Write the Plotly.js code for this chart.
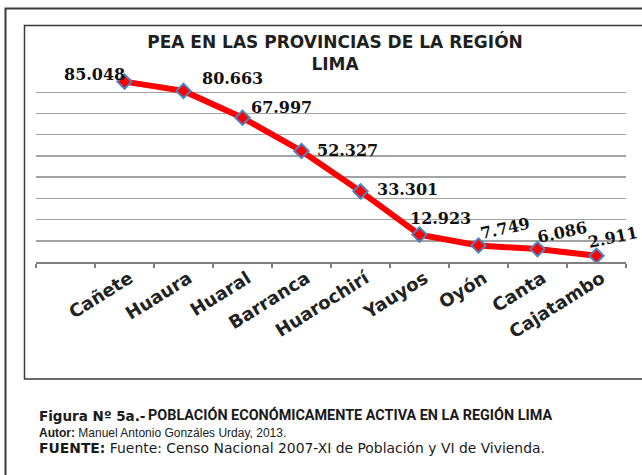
<!DOCTYPE html>
<html>
<head>
<meta charset="utf-8">
<script src="https://cdn.plot.ly/plotly-3.0.1.min.js"></script>
<style>
html,body{margin:0;padding:0;background:#fff;}
#chart{width:642px;height:475px;}
</style>
</head>
<body>
<div id="chart"></div>
<script>
// ---- data ----
const categories = ["Cañete", "Huaura", "Huaral", "Barranca", "Huarochirí", "Yauyos", "Oyón", "Canta", "Cajatambo"];
const pea = [85.048, 80.663, 67.997, 52.327, 33.301, 12.923, 7.749, 6.086, 2.911];
const chartTitle = ["PEA EN LAS PROVINCIAS DE LA REGIÓN", "LIMA"];
const figureLabel = "Figura Nº 5a.-";
const figureCaption = "POBLACIÓN ECONÓMICAMENTE ACTIVA EN LA REGIÓN LIMA";
const authorLine = "Manuel Antonio Gonzáles Urday, 2013.";
const sourceLine = "Fuente: Censo Nacional 2007-XI de Población y VI de Vivienda.";

// ---- styling / layout (not data) ----
const W = 642, H = 475;
const M = {l: 36, r: 16, t: 71, b: 213};
const PW = W - M.l - M.r, PH = H - M.t - M.b;
const px = v => (v - M.l) / PW;           // pixel x -> paper x
const py = v => (H - M.b - v) / PH;       // pixel y -> paper y

// data label offsets (pixels) and angles, one per point
const labelShift = [[-30, 7], [49, 12], [39, 10], [46, 1], [47, 2], [21, 16], [26, 17], [24, 17], [16, 18]];
const labelAngle = [0, 0, 0, 0, 0, 0, -12, -12, -12];

const xpos = categories.map((c, i) => i + 1); // first slot left empty as in the original

const trace = {
  type: 'scatter',
  mode: 'lines+markers',
  x: xpos,
  y: pea,
  line: {color: '#ff0000', width: 6},
  marker: {symbol: 'diamond', size: 11, color: '#ff0000', line: {color: '#4f81bd', width: 2}},
  hoverinfo: 'skip',
  cliponaxis: false
};

const annotations = [];
pea.forEach((v, i) => {
  annotations.push({
    x: xpos[i], y: v, xref: 'x', yref: 'y',
    text: v.toFixed(3),
    showarrow: false,
    xanchor: 'center', yanchor: 'middle',
    xshift: labelShift[i][0], yshift: labelShift[i][1],
    textangle: labelAngle[i],
    font: {family: 'DejaVu Serif', size: 16, color: '#111111', weight: 'bold'}
  });
});

// figure caption below the chart
annotations.push({xref: 'paper', yref: 'paper', x: px(37), y: py(416), xanchor: 'left', yanchor: 'middle',
  text: '<b>' + figureLabel + '</b>', showarrow: false,
  font: {family: 'DejaVu Sans', size: 13.5, color: '#1a1a1a'}});
annotations.push({xref: 'paper', yref: 'paper', x: px(146), y: py(415), xanchor: 'left', yanchor: 'middle',
  text: '<b>' + figureCaption + '</b>', showarrow: false,
  font: {family: 'Roboto', size: 14.4, color: '#1a1a1a'}});
annotations.push({xref: 'paper', yref: 'paper', x: px(37), y: py(433), xanchor: 'left', yanchor: 'middle',
  text: '<b>Autor:</b> ' + authorLine, showarrow: false,
  font: {family: 'Liberation Sans', size: 12, color: '#1a1a1a'}});
annotations.push({xref: 'paper', yref: 'paper', x: px(37), y: py(448), xanchor: 'left', yanchor: 'middle',
  text: '<b>FUENTE:</b> ' + sourceLine, showarrow: false,
  font: {family: 'DejaVu Sans', size: 13.9, color: '#1a1a1a'}});

const shapes = [
  // outer frame (continues past right/bottom edge)
  {type: 'rect', xref: 'paper', yref: 'paper', x0: px(5.5), x1: px(660), y0: py(8.5), y1: py(500),
   line: {color: '#3a3a3a', width: 2}, fillcolor: 'rgba(0,0,0,0)', layer: 'below'},
  // chart frame
  {type: 'rect', xref: 'paper', yref: 'paper', x0: px(24.5), x1: px(660), y0: py(25.5), y1: py(379),
   line: {color: '#3a3a3a', width: 1.5}, fillcolor: 'rgba(0,0,0,0)', layer: 'below'}
];

const layout = {
  width: W, height: H,
  margin: M,
  paper_bgcolor: '#ffffff',
  plot_bgcolor: 'rgba(0,0,0,0)',
  showlegend: false,
  title: {
    text: '<b>' + chartTitle[0] + '</b><br><b>' + chartTitle[1] + '</b>',
    xref: 'container', yref: 'container',
    x: 335 / W, y: 1 - 48 / H,
    xanchor: 'center', yanchor: 'middle',
    font: {family: 'DejaVu Sans', size: 17, color: '#1f1f1f'}
  },
  xaxis: {
    type: 'linear',
    range: [-0.5, categories.length + 0.5],
    tickvals: xpos,
    ticktext: categories,
    tickangle: -32,
    ticks: '',
    ticklabelstandoff: -3,
    ticklabelshift: 5,
    showgrid: false,
    zeroline: false,
    showline: true,
    linecolor: '#7f7f7f',
    linewidth: 2,
    tickfont: {family: 'DejaVu Sans', size: 18, color: '#222222', weight: 'bold'},
    minor: {tick0: -0.5, dtick: 1, ticks: 'outside', ticklen: 4, tickwidth: 2, tickcolor: '#7f7f7f', showgrid: false},
    fixedrange: true
  },
  yaxis: {
    range: [0, 90.05],
    dtick: 10,
    tick0: 0,
    showticklabels: false,
    ticks: '',
    showgrid: true,
    gridcolor: '#a3a3a3',
    gridwidth: 1.5,
    zeroline: false,
    showline: false,
    fixedrange: true
  },
  annotations: annotations,
  shapes: shapes
};

Plotly.newPlot('chart', [trace], layout, {staticPlot: true, displayModeBar: false});
</script>
</body>
</html>
